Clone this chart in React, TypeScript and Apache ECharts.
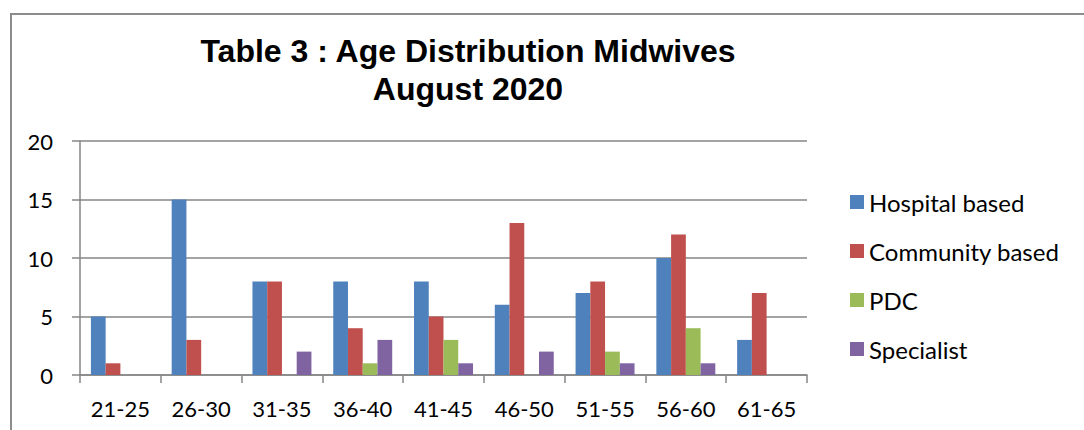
import React, { useEffect, useRef } from "react";
import * as echarts from "echarts";

const categories = ["21-25", "26-30", "31-35", "36-40", "41-45", "46-50", "51-55", "56-60", "61-65"];
const hospitalBased = [5, 15, 8, 8, 8, 6, 7, 10, 3];
const communityBased = [1, 3, 8, 4, 5, 13, 8, 12, 7];
const pdc = [0, 0, 0, 1, 3, 0, 2, 4, 0];
const specialist = [0, 0, 2, 3, 1, 2, 1, 1, 0];
const seriesNames = ["Hospital based", "Community based", "PDC", "Specialist"];
const seriesColors = ["#4F81BD", "#C0504D", "#9BBB59", "#8064A2"];
const titleLines = ["Table 3 : Age Distribution Midwives", "August 2020"];

export default function App() {
  const ref = useRef<HTMLDivElement>(null);
  useEffect(() => {
    if (!ref.current) return;
    const chart = echarts.init(ref.current, null, { renderer: "svg" });
    const data = [hospitalBased, communityBased, pdc, specialist];
    const gray = "#868686";
    chart.setOption({
      animation: false,
      backgroundColor: "#ffffff",
      title: {
        text: titleLines.join("\n"),
        left: 468,
        top: 32,
        padding: 0,
        textAlign: "center",
        textStyle: {
          fontFamily: "Liberation Sans, Arial, sans-serif",
          fontWeight: "bold",
          fontSize: 32,
          lineHeight: 38,
          color: "#000",
        },
      },
      graphic: [
        {
          type: "rect",
          shape: { x: 11, y: 14, width: 1200, height: 600 },
          style: { fill: "none", stroke: "#8c8c8c", lineWidth: 2 },
          silent: true,
        },
      ],
      legend: {
        orient: "vertical",
        left: 850,
        top: 190,
        padding: 0,
        itemWidth: 14,
        itemHeight: 14,
        itemGap: 25,
        icon: "rect",
        textStyle: { fontFamily: "Lato, sans-serif", fontSize: 24, lineHeight: 24, color: "#000" },
        data: seriesNames,
      },
      grid: { left: 80, right: 277, top: 141, bottom: 55, containLabel: false },
      xAxis: {
        type: "category",
        data: categories,
        axisLine: { show: true, lineStyle: { color: gray, width: 1.5 } },
        axisTick: { show: true, length: 8, alignWithLabel: false, lineStyle: { color: gray, width: 1.5 } },
        axisLabel: { margin: 22, fontFamily: "Lato, sans-serif", fontSize: 22, color: "#000" },
      },
      yAxis: {
        type: "value",
        min: 0,
        max: 20,
        interval: 5,
        axisLine: { show: true, lineStyle: { color: gray, width: 1.5 } },
        axisTick: { show: true, length: 8, lineStyle: { color: gray, width: 1.5 } },
        splitLine: { show: true, lineStyle: { color: gray, width: 1.5 } },
        axisLabel: { margin: 27, fontFamily: "Lato, sans-serif", fontSize: 22, color: "#000" },
      },
      series: seriesNames.map((name, i) => ({
        name,
        type: "bar",
        data: data[i],
        barGap: "0%",
        barCategoryGap: "27%",
        itemStyle: { color: seriesColors[i] },
      })),
    });
    return () => chart.dispose();
  }, []);
  return <div ref={ref} style={{ position: "fixed", left: 0, top: 0, width: 1084, height: 430 }} />;
}
